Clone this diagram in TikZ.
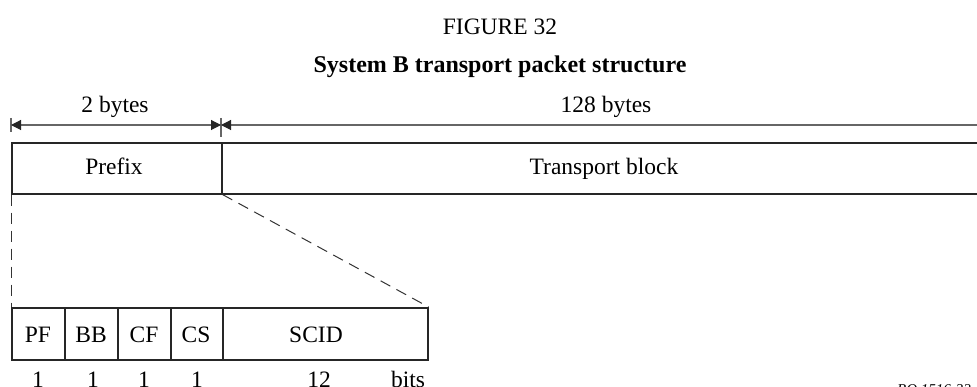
\documentclass[tikz,border=0pt]{standalone}
\usepackage{fontspec}
\setmainfont{Liberation Serif}
\usetikzlibrary{arrows.meta}
\begin{document}
\begin{tikzpicture}[x=1pt,y=-1pt,
  lbl/.style={font=\fontsize{23.5}{26}\selectfont, inner sep=0pt, anchor=base},
  box/.style={draw=black!85, line width=1.6pt, inner sep=0pt, anchor=north west},
  dim/.style={draw=black!60, line width=1.1pt},
  tri/.tip={Triangle[length=10pt,width=10pt,fill=black!85,color=black!85]},
  dsh/.style={draw=black!80, line width=1pt, dash pattern=on 11pt off 7pt}]
\useasboundingbox (0,0) rectangle (977,387);
% titles
\node[lbl] (fig) at (500,35) {FIGURE 32};
\node[lbl, font=\fontsize{24}{26}\selectfont\bfseries] (ttl) at (500,73) {System B transport packet structure};
% top row boxes
\node[box, minimum width=210pt, minimum height=51pt] (prefix) at (11,142) {};
\node[box, minimum width=800pt, minimum height=51pt] (tb) at (221,142) {};
\node[lbl] (prefixl) at (114,175) {Prefix};
\node[lbl] (tbl) at (604,175) {Transport block};
% dimension lines
\coordinate (t1a) at (11,118); \coordinate (t1b) at (11,132);
\coordinate (t2a) at (221,118); \coordinate (t2b) at (221,137);
\coordinate (d1) at (11,125); \coordinate (d2) at (221,125); \coordinate (d3) at (1000,125);
\draw[dim] (t1a) -- (t1b);
\draw[dim] (t2a) -- (t2b);
\draw[dim, tri-tri] (d1) -- (d2);
\draw[dim, tri-] (d2) -- (d3);
\node[lbl] (b2) at (115,113) {2 bytes};
\node[lbl] (b128) at (606,113) {128 bytes};
% bottom fields
\node[box, minimum width=53pt, minimum height=52pt] (pf) at (11,307) {};
\node[box, minimum width=53pt, minimum height=52pt] (bb) at (64,307) {};
\node[box, minimum width=53pt, minimum height=52pt] (cf) at (117,307) {};
\node[box, minimum width=52pt, minimum height=52pt] (cs) at (170,307) {};
\node[box, minimum width=205pt, minimum height=52pt] (scid) at (222,307) {};
\node[lbl] (pfl) at (38,342) {PF};
\node[lbl] (bbl) at (91,342) {BB};
\node[lbl] (cfl) at (144,342) {CF};
\node[lbl] (csl) at (196,342) {CS};
\node[lbl] (scidl) at (316,342) {SCID};
% dashed expansion
\draw[dsh] (prefix.south west) -- (pf.north west);
\draw[dsh] (prefix.south east) -- (scid.north east);
% bit counts
\node[lbl] (n1) at (38,387) {1};
\node[lbl] (n2) at (93,387) {1};
\node[lbl] (n3) at (144,387) {1};
\node[lbl] (n4) at (197,387) {1};
\node[lbl] (n5) at (319,387) {12};
\node[lbl] (bits) at (408,387) {bits};
\node[font=\fontsize{15}{18}\selectfont\itshape, inner sep=0pt, anchor=base west] (code) at (897,394) {BO.1516-32};
\end{tikzpicture}
\end{document}
